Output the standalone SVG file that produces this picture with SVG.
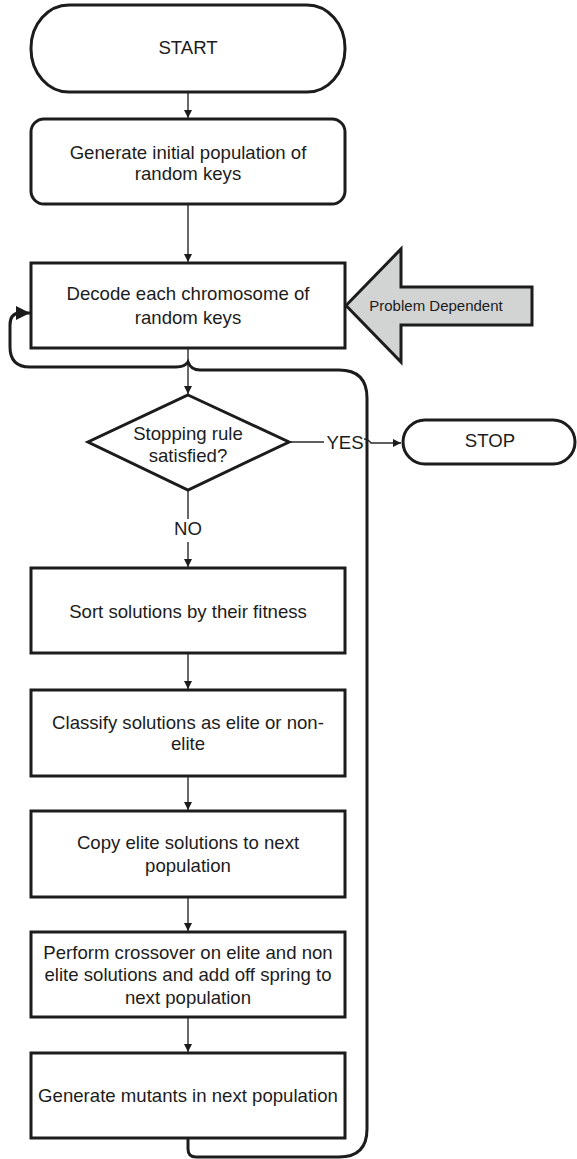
<svg xmlns="http://www.w3.org/2000/svg" width="577" height="1159" viewBox="0 0 577 1159">
  <defs>
    <style>
      .box { fill: #fff; stroke: #1c1c1c; stroke-width: 3; }
      .txt { font-family: "Liberation Sans", Arial, sans-serif; font-size: 18.6px; fill: #1c1c1c; text-anchor: middle; }
      .small { font-size: 15px; }
      .link { fill: none; stroke: #2a2a2a; stroke-width: 1.4; }
      .loop { fill: none; stroke: #1c1c1c; stroke-width: 3; }
      .callout { fill: #d2d3d3; stroke: #1c1c1c; stroke-width: 3; stroke-linejoin: miter; }
    </style>
    <marker id="arrow" viewBox="0 0 10 10" refX="10" refY="5" markerWidth="8" markerHeight="8" markerUnits="userSpaceOnUse" orient="auto">
      <path d="M0,0 L10,5 L0,10 Z" fill="#1c1c1c"/>
    </marker>
    <marker id="arrowBig" viewBox="0 0 10 10" refX="10" refY="5" markerWidth="14" markerHeight="16" markerUnits="userSpaceOnUse" orient="auto">
      <path d="M0,0 L10,5 L0,10 Z" fill="#1c1c1c"/>
    </marker>
  </defs>

  <!-- connectors -->
  <g id="connectors">
    <line class="link" x1="188" y1="92" x2="188" y2="118" marker-end="url(#arrow)"/>
    <line class="link" x1="188" y1="204" x2="188" y2="262" marker-end="url(#arrow)"/>
    <line class="link" x1="188" y1="348" x2="188" y2="394" marker-end="url(#arrow)"/>
    <line class="link" x1="188" y1="490" x2="188" y2="519"/>
    <line class="link" x1="188" y1="542" x2="188" y2="567" marker-end="url(#arrow)"/>
    <line class="link" x1="188" y1="653" x2="188" y2="689" marker-end="url(#arrow)"/>
    <line class="link" x1="188" y1="776" x2="188" y2="810" marker-end="url(#arrow)"/>
    <line class="link" x1="188" y1="897" x2="188" y2="931" marker-end="url(#arrow)"/>
    <line class="link" x1="188" y1="1017" x2="188" y2="1052" marker-end="url(#arrow)"/>
    <!-- YES branch to STOP, hopping over the loop line -->
    <line class="link" x1="289" y1="442" x2="324" y2="442"/>
    <path class="link" d="M364 439 Q368 439 371 443 L401 443" marker-end="url(#arrow)"/>
    <text class="txt" x="345" y="448.5">YES</text>
    <text class="txt" x="188" y="534.5">NO</text>
    <!-- feedback loop from the last step back to decoding -->
    <path class="loop" d="M188 1138 L188 1149 Q188 1157 196 1157 L339 1157 Q367 1157 367 1129 L367 398 Q367 370 339 370 L200 370 Q191 370 188 362 Q185 367 176 367 L30 367 Q10 367 10 347 L10 325 Q10 313 20 313 L30 313" marker-end="url(#arrowBig)"/>
  </g>

  <g id="start">
    <rect class="box" x="31" y="5" width="314" height="87" rx="38" ry="43"/>
    <text class="txt" x="188" y="53.5">START</text>
  </g>

  <g id="init">
    <rect class="box" x="31" y="119" width="314" height="85" rx="13"/>
    <text class="txt" x="188" y="158.5">Generate initial population of</text>
    <text class="txt" x="188" y="179.5">random keys</text>
  </g>

  <g id="decode">
    <rect class="box" x="31" y="263" width="314" height="85"/>
    <text class="txt" x="188" y="299.5">Decode each chromosome of</text>
    <text class="txt" x="188" y="323.5">random keys</text>
  </g>

  <g id="problem-dependent">
    <polygon class="callout" points="346,305.5 401,249 401,287 532,287 532,325 401,325 401,362"/>
    <text class="txt small" x="436" y="311">Problem Dependent</text>
  </g>

  <g id="stopping-rule">
    <polygon class="box" points="188,395 289,442 188,490 88,442"/>
    <text class="txt" x="188" y="439.5">Stopping rule</text>
    <text class="txt" x="188" y="461.5">satisfied?</text>
  </g>

  <g id="stop">
    <rect class="box" x="403" y="420" width="172" height="44" rx="22"/>
    <text class="txt" x="490" y="447">STOP</text>
  </g>

  <g id="sort">
    <rect class="box" x="31" y="568" width="314" height="85"/>
    <text class="txt" x="188" y="617.5">Sort solutions by their fitness</text>
  </g>

  <g id="classify">
    <rect class="box" x="31" y="690" width="314" height="86"/>
    <text class="txt" x="188" y="728.5">Classify solutions as elite or non-</text>
    <text class="txt" x="188" y="749.5">elite</text>
  </g>

  <g id="copy">
    <rect class="box" x="31" y="811" width="314" height="86"/>
    <text class="txt" x="188" y="848.5">Copy elite solutions to next</text>
    <text class="txt" x="188" y="871.5">population</text>
  </g>

  <g id="crossover">
    <rect class="box" x="31" y="932" width="314" height="85"/>
    <text class="txt" x="188" y="958.5">Perform crossover on elite and non</text>
    <text class="txt" x="188" y="980.5">elite solutions and add off spring to</text>
    <text class="txt" x="188" y="1003.5">next population</text>
  </g>

  <g id="mutants">
    <rect class="box" x="31" y="1053" width="314" height="85"/>
    <text class="txt" x="188" y="1101.5">Generate mutants in next population</text>
  </g>
</svg>
